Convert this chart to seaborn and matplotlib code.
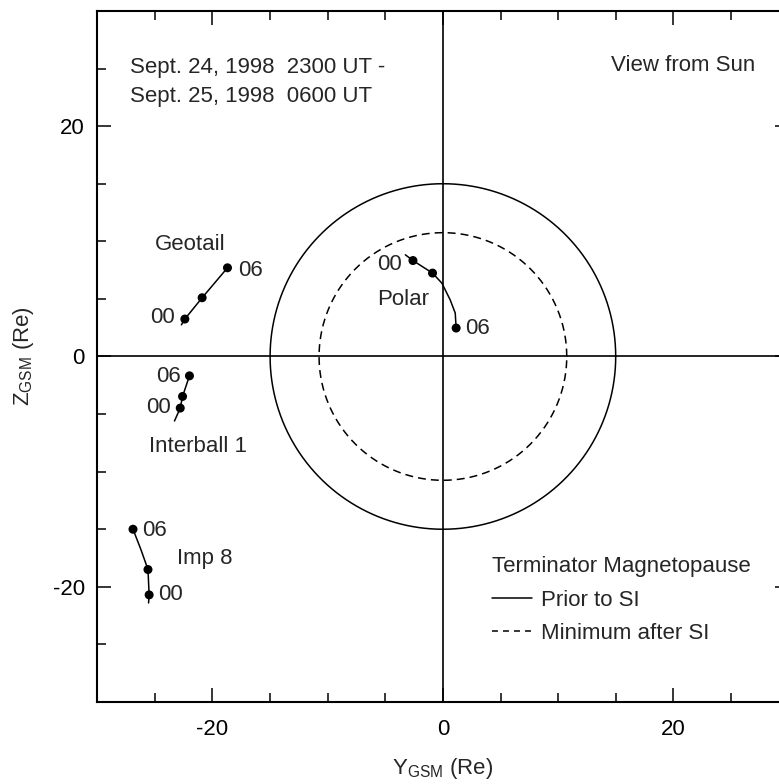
import numpy as np
import pandas as pd
import matplotlib
matplotlib.use("Agg")
import matplotlib.pyplot as plt
import seaborn as sns
from matplotlib.lines import Line2D
from matplotlib.ticker import MultipleLocator

sns.set_theme(style="ticks")
plt.rcParams["font.family"] = ["Liberation Sans", "DejaVu Sans"]
plt.rcParams["mathtext.default"] = "regular"
plt.rcParams["axes.unicode_minus"] = False

# Spacecraft tracks in the GSM Y-Z plane (Re), 2300 UT Sept 24 -> 0600 UT Sept 25
geotail_hour = [23, 0, 3, 6]
geotail_y = [-22.7, -22.4, -20.9, -18.7]
geotail_z = [2.75, 3.25, 5.1, 7.7]

interball_hour = [23, 0, 3, 6]
interball_y = [-23.3, -22.8, -22.6, -22.0]
interball_z = [-5.6, -4.48, -3.47, -1.68]

polar_hour = [23, 0, 3, 4, 5, 5.5, 6]
polar_y = [-3.26, -2.6, -0.9, -0.09, 0.63, 1.07, 1.15]
polar_z = [8.83, 8.33, 7.24, 6.37, 4.92, 3.77, 2.47]

imp8_hour = [23, 0, 3, 4.5, 6]
imp8_y = [-25.55, -25.5, -25.6, -26.2, -26.9]
imp8_z = [-21.4, -20.7, -18.5, -16.8, -15.0]

marked_hours = [0, 3, 6]

# Terminator magnetopause radius (Re)
prior_si_r = 15.0
after_si_r = 10.75

frames = []
for name, hrs, ys, zs in [("Geotail", geotail_hour, geotail_y, geotail_z),
                          ("Interball 1", interball_hour, interball_y, interball_z),
                          ("Polar", polar_hour, polar_y, polar_z),
                          ("Imp 8", imp8_hour, imp8_y, imp8_z)]:
    frames.append(pd.DataFrame({"craft": name, "hour": hrs, "Y": ys, "Z": zs}))
tracks = pd.concat(frames, ignore_index=True)
dots = tracks[tracks["hour"].isin(marked_hours)]

theta = np.linspace(0, 2 * np.pi, 721)
bounds = pd.concat([
    pd.DataFrame({"case": "Prior to SI", "Y": prior_si_r * np.cos(theta),
                  "Z": prior_si_r * np.sin(theta)}),
    pd.DataFrame({"case": "Minimum after SI", "Y": after_si_r * np.cos(theta),
                  "Z": after_si_r * np.sin(theta)}),
], ignore_index=True)

fig = plt.figure(figsize=(7.79, 7.84), dpi=100)
ax = fig.add_axes([0.1249, 0.1046, 0.8873, 0.8814])

solid = "-"
dashed = (0, (5.2, 3.3))
for case, ls in [("Prior to SI", solid), ("Minimum after SI", dashed)]:
    sub = bounds[bounds["case"] == case]
    sns.lineplot(data=sub, x="Y", y="Z", sort=False, estimator=None,
                 color="black", lw=1.1, ax=ax, legend=False)
    ax.lines[-1].set_linestyle(ls)

ax.axhline(0, color="black", lw=1.2, zorder=1)
ax.axvline(0, color="black", lw=1.2, zorder=1)

sns.lineplot(data=tracks, x="Y", y="Z", units="craft", estimator=None, sort=False,
             color="black", lw=1.1, ax=ax, legend=False)
sns.scatterplot(data=dots, x="Y", y="Z", color="black", s=42, edgecolor="none",
                ax=ax, legend=False, zorder=5)

ax.set_xlim(-30, 30)
ax.set_ylim(-30, 30)
ax.xaxis.set_major_locator(MultipleLocator(20))
ax.xaxis.set_minor_locator(MultipleLocator(5))
ax.yaxis.set_major_locator(MultipleLocator(20))
ax.yaxis.set_minor_locator(MultipleLocator(5))
ax.tick_params(which="both", direction="in", top=True, right=True,
               width=1.1, colors="black", labelsize=16)
ax.tick_params(which="major", length=10)
ax.tick_params(which="minor", length=6.5)
ax.tick_params(axis="x", pad=12)
ax.tick_params(axis="y", pad=9)
for sp in ax.spines.values():
    sp.set_linewidth(1.5)
    sp.set_color("black")

fs = 16
ax.set_xlabel(r"Y$_{GSM}$ (Re)", fontsize=fs, labelpad=12)
ax.set_ylabel(r"Z$_{GSM}$ (Re)", fontsize=fs, labelpad=12)

ax.text(-27.2, 25.06, "Sept. 24, 1998  2300 UT -", fontsize=fs, va="center")
ax.text(-27.2, 22.6, "Sept. 25, 1998  0600 UT", fontsize=fs, va="center")
ax.text(27.1, 25.3, "View from Sun", fontsize=fs, va="center", ha="right")

ax.text(-25.0, 9.7, "Geotail", fontsize=fs, va="center")
ax.text(-23.3, 3.36, "00", fontsize=fs, va="center", ha="right")
ax.text(-17.8, 7.47, "06", fontsize=fs, va="center")

ax.text(-24.9, -1.74, "06", fontsize=fs, va="center")
ax.text(-25.8, -4.43, "00", fontsize=fs, va="center")
ax.text(-25.5, -7.84, "Interball 1", fontsize=fs, va="center")

ax.text(-5.73, 7.96, "00", fontsize=fs, va="center")
ax.text(-5.73, 4.98, "Polar", fontsize=fs, va="center")
ax.text(1.94, 2.47, "06", fontsize=fs, va="center")

ax.text(-26.07, -15.1, "06", fontsize=fs, va="center")
ax.text(-23.1, -17.5, "Imp 8", fontsize=fs, va="center")
ax.text(-24.7, -20.7, "00", fontsize=fs, va="center")

handles = [Line2D([], [], color="black", lw=1.1, ls=solid),
           Line2D([], [], color="black", lw=1.1, ls=(0, (3.9, 3.3)))]
leg = ax.legend(handles, ["Prior to SI", "Minimum after SI"],
                title="Terminator Magnetopause", title_fontsize=fs, fontsize=fs,
                frameon=False, loc="upper left", bbox_to_anchor=(0.5706, 0.2106),
                borderpad=0, borderaxespad=0, handlelength=1.8, handletextpad=0.4,
                labelspacing=0.55, alignment="left")

fig.savefig("out.png", dpi=100)
